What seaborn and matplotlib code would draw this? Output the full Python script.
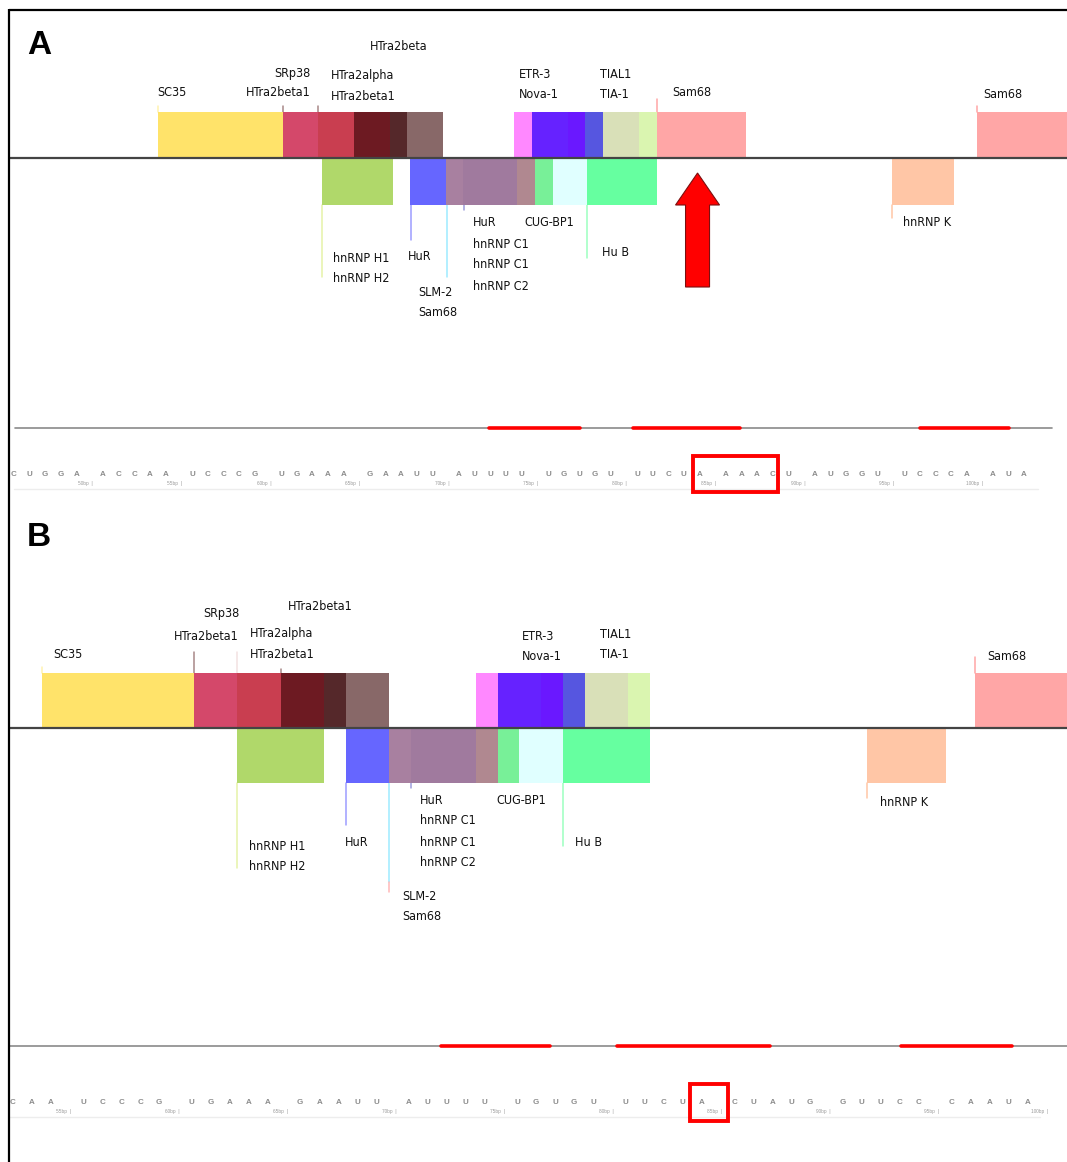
import matplotlib
matplotlib.use("Agg")
import matplotlib.pyplot as plt
from matplotlib.patches import Rectangle, Polygon
from matplotlib import font_manager
import numpy as np
import pandas as pd
import seaborn as sns

# ---------------------------------------------------------------- data ----
# Panel A: wild-type sequence (first base is position 46)
seq_a = "CUGGAACCAAUCCCGUGAAAGAAUUAUUUUUGUGUUUCUAAAACUAUGGUUCCCAAUA"
seq_a_first = 46
ticks_a = [50, 55, 60, 65, 70, 75, 80, 85, 90, 95, 100]

# Panel B: sequence lacking the AAA stretch (first base is position 53)
seq_b = "CAAUCCCGUGAAAGAAUUAUUUUUGUGUUUCUACUAUGGUUCCCAAUA"
seq_b_first = 53
ticks_b = [55, 60, 65, 70, 75, 80, 85, 90, 95, 100]

# binding sites drawn above the strand (start / end in bp)
upper_a_start = [54, 61, 63, 65, 67, 68, 74, 75, 77, 78, 79, 81, 82, 100]
upper_a_end = [61, 63, 65, 67, 68, 70, 75, 77, 78, 79, 81, 82, 87, 106]
upper_b_start = [54, 61, 63, 65, 67, 68, 74, 75, 77, 78, 79, 81, 97]
upper_b_end = [61, 63, 65, 67, 68, 70, 75, 77, 78, 79, 81, 82, 103]

# binding sites drawn below the strand
lower_a_start = [63.2, 68.15, 70.17, 71.12, 74.16, 75.17, 76.18, 78.09, 95.2]
lower_a_end = [67.2, 70.17, 71.12, 74.16, 75.17, 76.18, 78.09, 82.0, 98.7]
lower_b_start = [63, 68, 70, 71, 74, 75, 76, 78, 92.0]
lower_b_end = [67, 70, 71, 74, 75, 76, 78, 82, 95.65]

# conserved stretches (red bars under each track)
cons_a_start = [72.6, 80.7, 96.8]
cons_a_end = [77.7, 86.7, 101.8]
cons_b_start = [72.4, 80.5, 93.6]
cons_b_end = [77.4, 87.55, 98.7]

# highlighted bases
box_a = (84.05, 88.8)
box_b = (83.85, 85.6)
arrow_a_bp = 84.3

# ---------------------------------------------------------------- style ----
upper_colors_a = ["#FFE36A", "#D4486A", "#C93E50", "#6D1A22", "#55282A", "#886868",
                  "#FF88FF", "#6622FF", "#6A18FF", "#5656E0", "#D9E0B8", "#DAF5B0",
                  "#FFA6A6", "#FFA6A6"]
upper_colors_b = upper_colors_a[:12] + ["#FFA6A6"]
lower_colors = ["#B0D86A", "#6666FF", "#A880A0", "#A07A9E", "#B08890",
                "#78F098", "#E0FFFF", "#66FFA0", "#FFC6A6"]

sns.set_theme(style="white")
names = {f.name for f in font_manager.fontManager.ttflist}
LABEL_FONT = ["Liberation Sans Narrow"] if "Liberation Sans Narrow" in names else ["DejaVu Sans"]
LABEL_KW = dict(family=LABEL_FONT, fontsize=10.5, color="#111111")
if LABEL_FONT == ["DejaVu Sans"]:
    LABEL_KW["fontstretch"] = "condensed"
    LABEL_KW["fontsize"] = 9.0

W, H = 1067, 1162
fig = plt.figure(figsize=(W / 100, H / 100), dpi=100)
fig.patch.set_facecolor("white")


def panel_axes(top_px, bottom_px, bp_at_left, px_per_bp):
    ax = fig.add_axes([0, 1 - bottom_px / H, 1, (bottom_px - top_px) / H])
    ax.set_xlim(bp_at_left, bp_at_left + W / px_per_bp)
    ax.set_ylim(bottom_px, top_px)
    ax.axis("off")
    return ax


def letter_x(pos, spacing=0.875, shift=-0.35):
    # bases are printed in groups of five around the middle base of the group
    mid = (pos - 1) // 5 * 5 + 3
    return mid + shift + (pos - mid) * spacing


def draw_panel(ax, cfg):
    y_line, up_top, low_bot = cfg["line_y"], cfg["up_top"], cfg["low_bot"]
    # blocks
    us, ue = np.array(cfg["upper"][0]), np.array(cfg["upper"][1])
    ax.bar(us, y_line - up_top, width=ue - us, bottom=up_top, align="edge",
           color=cfg["upper_colors"], linewidth=0, zorder=2)
    ls, le = np.array(cfg["lower"][0]), np.array(cfg["lower"][1])
    ax.bar(ls, low_bot - y_line, width=le - ls, bottom=y_line, align="edge",
           color=lower_colors, linewidth=0, zorder=2)
    # strand
    ax.plot([cfg["strand_x0"], ax.get_xlim()[1]], [y_line, y_line], color="#444444",
            lw=1.6, zorder=3, solid_capstyle="butt")
    # leader ticks
    for x, y0, y1, c in cfg["leaders"]:
        ax.plot([x, x], [y0, y1], color=c, lw=1.1, zorder=1)
    # labels
    for txt, x, y, ha in cfg["labels"]:
        ax.text(x, y, txt, ha=ha, va="center", zorder=4, **LABEL_KW)
    # conservation track
    x0, x1 = cfg["track_x"]
    ax.plot([x0, x1], [cfg["track_y"]] * 2, color="#8A8A8A", lw=1.2, zorder=1)
    cs, ce = cfg["cons"]
    cons = pd.DataFrame({
        "bp": np.ravel(np.column_stack([cs, ce])),
        "y": cfg["track_y"],
        "seg": np.repeat(np.arange(len(cs)), 2),
    })
    sns.lineplot(data=cons, x="bp", y="y", units="seg", estimator=None, color="#FF0000",
                 lw=2.6, ax=ax, legend=False, zorder=2)
    ax.set_xlabel("")
    ax.set_ylabel("")
    # sequence
    seq, first = cfg["seq"]
    for i, base in enumerate(seq):
        ax.text(letter_x(first + i), cfg["seq_y"], base, ha="center", va="center",
                family=["Liberation Sans", "DejaVu Sans"], fontweight="bold",
                fontsize=5.8, color="#8C8C8C", zorder=4)
    for t in cfg["ticks"]:
        ax.text(letter_x(t) + 0.95, cfg["tick_y"], f"{t}bp  |", ha="right", va="center",
                family=["Liberation Sans", "DejaVu Sans"], fontsize=3.4, color="#9A9A9A")
    sx0, sx1 = cfg["seq_line_x"]
    ax.plot([sx0, sx1], [cfg["seq_line_y"]] * 2, color="#EDEDED", lw=1.0, zorder=1)
    # highlight box
    bx0, bx1 = cfg["box"]
    by0, by1 = cfg["box_y"]
    ax.add_patch(Rectangle((bx0, by0), bx1 - bx0, by1 - by0, fill=False,
                           edgecolor="#FF0000", lw=2.8, zorder=5))


# ---------------------------------------------------------------- panel A ----
axA = panel_axes(0, 500, 50 - 87 / 17.8, 17.8)
cfgA = dict(
    line_y=158, up_top=112, low_bot=205, strand_x0=45.7,
    upper=(upper_a_start, upper_a_end), upper_colors=upper_colors_a,
    lower=(lower_a_start, lower_a_end),
    leaders=[(54, 106, 112, "#FFF2B0"), (61, 106, 112, "#A88888"), (63, 106, 112, "#A88888"),
             (82, 99, 112, "#FFA6A6"), (100, 106, 112, "#FFA6A6"),
             (63.2, 205, 277, "#E6F2A8"), (68.2, 205, 240, "#9C9CFF"),
             (70.2, 205, 277, "#9EEBFF"), (71.2, 205, 210, "#9C9CDD"),
             (78.1, 205, 258, "#9CFFC0"), (95.2, 205, 218, "#FFC6A6")],
    labels=[("SC35", 53.93, 93, "left"),
            ("SRp38", 62.55, 73, "right"), ("HTra2beta1", 62.55, 93, "right"),
            ("HTra2alpha", 63.7, 75, "left"), ("HTra2beta1", 63.7, 96, "left"),
            ("HTra2beta", 65.9, 47, "left"),
            ("ETR-3", 74.27, 75, "left"), ("Nova-1", 74.27, 95, "left"),
            ("TIAL1", 78.82, 75, "left"), ("TIA-1", 78.82, 95, "left"),
            ("Sam68", 82.87, 93, "left"), ("Sam68", 100.34, 94, "left"),
            ("hnRNP H1", 63.82, 258, "left"), ("hnRNP H2", 63.82, 279, "left"),
            ("HuR", 68.03, 257, "left"),
            ("SLM-2", 68.6, 293, "left"), ("Sam68", 68.6, 313, "left"),
            ("HuR", 71.69, 223, "left"), ("hnRNP C1", 71.69, 244, "left"),
            ("hnRNP C1", 71.69, 265, "left"), ("hnRNP C2", 71.69, 286, "left"),
            ("CUG-BP1", 74.55, 222, "left"), ("Hu B", 78.93, 253, "left"),
            ("hnRNP K", 95.84, 223, "left")],
    track_y=428, track_x=(45.95, 104.2), cons=(cons_a_start, cons_a_end),
    seq=(seq_a, seq_a_first), ticks=ticks_a, seq_y=475, tick_y=483,
    seq_line_y=489, seq_line_x=(45.9, 103.4),
    box=box_a, box_y=(456, 492),
)
draw_panel(axA, cfgA)

# red arrow pointing at the AAA stretch
cx = arrow_a_bp
shaft, head = 12 / 17.8, 22 / 17.8
arrow = Polygon([(cx, 173), (cx + head, 205), (cx + shaft, 205), (cx + shaft, 287),
                 (cx - shaft, 287), (cx - shaft, 205), (cx - head, 205)],
                closed=True, facecolor="#FF0000", edgecolor="#7A1010", lw=0.8, zorder=5)
axA.add_patch(arrow)

# ---------------------------------------------------------------- panel B ----
axB = panel_axes(500, 1162, 54 - 42 / 21.7, 21.7)
cfgB = dict(
    line_y=728, up_top=673, low_bot=783, strand_x0=52.5,
    upper=(upper_b_start, upper_b_end), upper_colors=upper_colors_b,
    lower=(lower_b_start, lower_b_end),
    leaders=[(54, 667, 673, "#FFF2B0"), (61, 652, 673, "#A88888"), (63, 652, 673, "#F2E2E2"),
             (65, 669, 673, "#A88888"), (97, 657, 673, "#FFA6A6"),
             (63, 783, 868, "#E6F2A8"), (68, 783, 825, "#9C9CFF"),
             (70, 783, 882, "#9EEBFF"), (70, 882, 892, "#FFB8B8"),
             (71, 783, 788, "#9C9CDD"),
             (78, 783, 846, "#9CFFC0"), (92, 783, 798, "#FFC6A6")],
    labels=[("SC35", 54.51, 655, "left"),
            ("SRp38", 63.08, 614, "right"), ("HTra2beta1", 63.08, 636, "right"),
            ("HTra2alpha", 63.59, 634, "left"), ("HTra2beta1", 63.59, 655, "left"),
            ("HTra2beta1", 65.34, 607, "left"),
            ("ETR-3", 76.12, 637, "left"), ("Nova-1", 76.12, 657, "left"),
            ("TIAL1", 79.71, 635, "left"), ("TIA-1", 79.71, 655, "left"),
            ("Sam68", 97.55, 657, "left"),
            ("hnRNP H1", 63.54, 847, "left"), ("hnRNP H2", 63.54, 867, "left"),
            ("HuR", 67.96, 842, "left"),
            ("SLM-2", 70.59, 897, "left"), ("Sam68", 70.59, 917, "left"),
            ("HuR", 71.42, 800, "left"), ("hnRNP C1", 71.42, 821, "left"),
            ("hnRNP C1", 71.42, 842, "left"), ("hnRNP C2", 71.42, 863, "left"),
            ("CUG-BP1", 74.92, 800, "left"), ("Hu B", 78.56, 843, "left"),
            ("hnRNP K", 92.62, 802, "left")],
    track_y=1046, track_x=(52.5, 101.3), cons=(cons_b_start, cons_b_end),
    seq=(seq_b, seq_b_first), ticks=ticks_b, seq_y=1102, tick_y=1111,
    seq_line_y=1117, seq_line_x=(52.5, 100.0),
    box=box_b, box_y=(1084, 1121),
)
draw_panel(axB, cfgB)

# ---------------------------------------------------------------- frame ----
frame = fig.add_axes([0, 0, 1, 1], zorder=10)
frame.set_xlim(0, W)
frame.set_ylim(H, 0)
frame.axis("off")
frame.patch.set_alpha(0)
frame.plot([9, 9], [9, H], color="black", lw=1.6, solid_capstyle="butt")
frame.plot([9, W], [10, 10], color="black", lw=1.6, solid_capstyle="butt")
for letter, y in (("A", 45), ("B", 538)):
    frame.text(27, y, letter, ha="left", va="center", fontsize=24, fontweight="bold",
               family=["Liberation Sans", "DejaVu Sans"], color="black")

fig.savefig("out.png", dpi=100, facecolor="white")
